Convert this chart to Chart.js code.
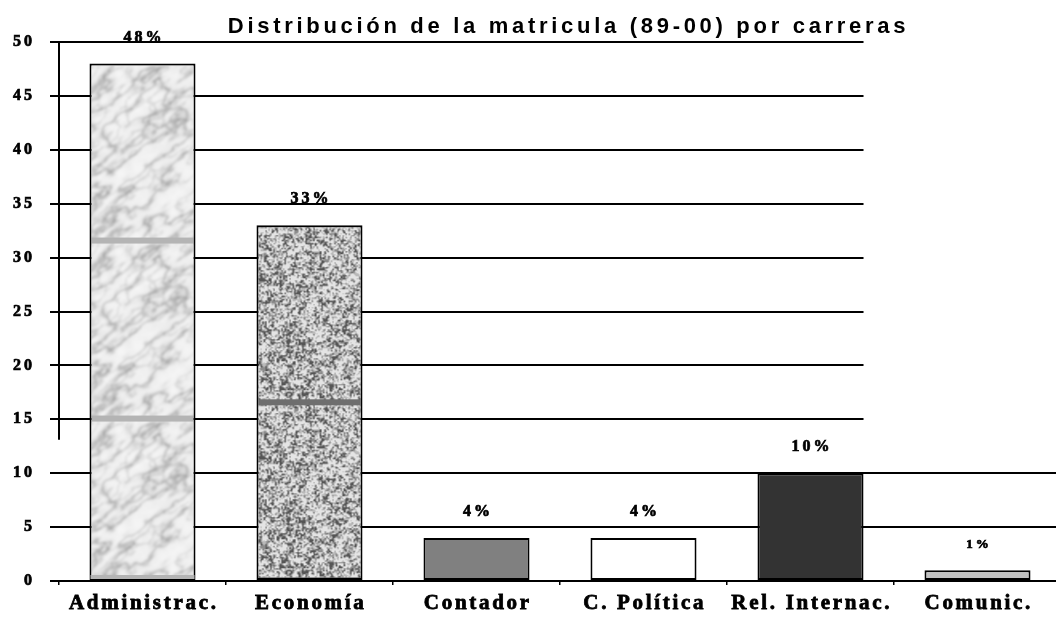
<!DOCTYPE html>
<html>
<head>
<meta charset="utf-8">
<script src="https://cdn.jsdelivr.net/npm/chart.js@4/dist/chart.umd.min.js"></script>
<style>
html,body{margin:0;padding:0;overflow:hidden;background:#fff;width:1056px;height:617px;}
canvas{display:block;}
</style>
</head>
<body>
<canvas id="c" width="1066" height="617"></canvas>
<script>
// ---- data ----
const categories = ['Administrac.', 'Economía', 'Contador', 'C. Política', 'Rel. Internac.', 'Comunic.'];
const values = [48, 33, 4, 4, 10, 1];
const pctLabels = ['48%', '33%', '4%', '4%', '10%', '1%'];
const titleText = 'Distribución de la matricula (89-00) por carreras';
const yMin = 0, yMax = 50, yStep = 5;

// ---- styles ----
const flatColors = [null, null, '#808080', '#ffffff', '#333333', '#c0c0c0'];
const labelSizes = [16, 16, 16, 16, 16, 13];
const serif = '"Liberation Serif", "Times New Roman", serif';
const sans = '"Liberation Sans", Arial, sans-serif';

// deterministic value noise for textures
function hash(x, y) { const s = Math.sin(x * 127.1 + y * 311.7) * 43758.5453; return s - Math.floor(s); }
function vnoise(x, y) {
  const xi = Math.floor(x), yi = Math.floor(y), xf = x - xi, yf = y - yi;
  const u = xf * xf * (3 - 2 * xf), v = yf * yf * (3 - 2 * yf);
  const a = hash(xi, yi), b = hash(xi + 1, yi), c = hash(xi, yi + 1), d = hash(xi + 1, yi + 1);
  return a + (b - a) * u + (c - a) * v + (a - b - c + d) * u * v;
}
function fbm(x, y) { let s = 0, amp = 0.5, f = 1; for (let i = 0; i < 4; i++) { s += amp * vnoise(x * f, y * f); amp *= 0.5; f *= 2; } return s; }

const TW = 120, TH = 178;
function makeTile(kind) {
  const cv = document.createElement('canvas'); cv.width = TW; cv.height = TH;
  const g = cv.getContext('2d'); const img = g.createImageData(TW, TH);
  for (let y = 0; y < TH; y++) for (let x = 0; x < TW; x++) {
    let v;
    if (kind === 'marble') {
      const u = x * 0.8 - y * 0.6, w = x * 0.6 + y * 0.8;
      const r1 = 1 - Math.abs(2 * fbm(u / 34 + 3, w / 14 + 5) - 1);
      const r2 = 1 - Math.abs(2 * fbm(u / 20 + 11, w / 10 + 2) - 1);
      const cloud = fbm(x / 9 + 40, y / 9 + 17);
      v = 248 - 14 * cloud - 60 * Math.pow(r1, 14) - 35 * Math.pow(r2, 16);
    } else {
      const n = vnoise(x / 1.6, y / 1.6) * 0.7 + vnoise(x / 5 + 9, y / 5 + 3) * 0.3;
      v = n > 0.56 ? 228 : n > 0.43 ? 185 : n > 0.32 ? 140 : 85;
    }
    const i = (y * TW + x) * 4;
    img.data[i] = img.data[i + 1] = img.data[i + 2] = Math.max(0, Math.min(255, v)); img.data[i + 3] = 255;
  }
  g.putImageData(img, 0, 0);
  const out = document.createElement('canvas'); out.width = TW; out.height = TH;
  const o = out.getContext('2d');
  o.filter = kind === 'marble' ? 'blur(0.9px)' : 'blur(0.35px)';
  // draw wrapped copies so the blur tiles seamlessly
  for (let dy = -1; dy <= 1; dy++) for (let dx = -1; dx <= 1; dx++) o.drawImage(cv, dx * TW, dy * TH);
  o.filter = 'none';
  o.fillStyle = kind === 'marble' ? '#b4b4b4' : '#6e6e6e';
  o.fillRect(0, 172, TW, 6);
  return out;
}
const tiles = [makeTile('marble'), makeTile('granite')];
const fallback = ['#e6e6e6', '#9a9a9a'];

function barFill(ctx) {
  const i = ctx.dataIndex;
  if (flatColors[i]) return flatColors[i];
  const chart = ctx.chart;
  if (!chart.chartArea || !chart.scales.y) return fallback[i];
  const top = chart.scales.y.getPixelForValue(ctx.raw);
  const left = chart.scales.x.getPixelForValue(i) - 60;
  const p = chart.ctx.createPattern(tiles[i], 'repeat');
  p.setTransform(new DOMMatrix([1, 0, 0, 1, left, top + 2]));
  return p;
}

function wrapSpacing(obj, fn, spacing, dx) {
  if (!obj || obj['_w_' + fn]) return;
  const orig = obj[fn];
  obj[fn] = function () {
    const c = this.ctx;
    c.save(); c.letterSpacing = spacing; if (dx) c.translate(dx, 0);
    const r = orig.apply(this, arguments);
    c.restore(); return r;
  };
  obj['_w_' + fn] = true;
}

const spacingPlugin = {
  id: 'spacing',
  beforeDraw(chart) {
    wrapSpacing(chart.titleBlock, 'draw', '3.7px', 38);
    wrapSpacing(chart.scales.x, 'drawLabels', '2.7px', 1.3);
    wrapSpacing(chart.scales.y, 'drawLabels', '3px', 0);
  }
};

const gridPlugin = {
  id: 'customGrid',
  beforeDatasetsDraw(chart) {
    const { ctx, chartArea, scales } = chart;
    const ys = scales.y;
    const meta = chart.getDatasetMeta(0);
    const rb = meta.data[4];
    const shortEnd = rb.x + rb.width / 2;
    ctx.save();
    ctx.strokeStyle = '#000'; ctx.lineWidth = 2;
    ys.ticks.forEach(t => {
      if (t.value === 0) return;
      const y = Math.round(ys.getPixelForValue(t.value));
      const x1 = t.value > 10 ? shortEnd : chartArea.right;
      ctx.beginPath(); ctx.moveTo(chartArea.left, y); ctx.lineTo(x1, y); ctx.stroke();
    });
    // partial vertical axis
    ctx.beginPath();
    ctx.moveTo(chartArea.left, ys.getPixelForValue(yMax));
    ctx.lineTo(chartArea.left, ys.getPixelForValue(13.1));
    ctx.stroke();
    ctx.restore();
  }
};

const labelPlugin = {
  id: 'barLabels',
  afterDatasetsDraw(chart) {
    const { ctx } = chart;
    const meta = chart.getDatasetMeta(0);
    ctx.save();
    // base band of the marble texture
    const e0 = meta.data[0];
    ctx.fillStyle = '#b4b4b4';
    ctx.fillRect(e0.x - e0.width / 2 + 1, e0.base - 5, e0.width - 2, 4);
    ctx.fillStyle = '#000'; ctx.strokeStyle = '#000'; ctx.lineWidth = 0.7;
    ctx.textAlign = 'center'; ctx.textBaseline = 'alphabetic';
    ctx.letterSpacing = '3px';
    meta.data.forEach((el, i) => {
      ctx.font = 'bold ' + labelSizes[i] + 'px ' + serif;
      ctx.fillText(pctLabels[i], el.x + 1.5, el.y - 22);
      ctx.strokeText(pctLabels[i], el.x + 1.5, el.y - 22);
    });
    ctx.restore();
  }
};

new Chart(document.getElementById('c'), {
  type: 'bar',
  data: {
    labels: categories,
    datasets: [{
      data: values,
      backgroundColor: barFill,
      borderColor: '#000',
      borderWidth: 2,
      borderSkipped: false,
      categoryPercentage: 1,
      barPercentage: 0.635
    }]
  },
  options: {
    responsive: false,
    animation: false,
    devicePixelRatio: 1,
    layout: { padding: { left: 0, right: 5, top: 0, bottom: 0 } },
    plugins: {
      legend: { display: false },
      tooltip: { enabled: false },
      title: {
        display: true, text: titleText, color: '#000',
        font: { family: sans, weight: 'bold', size: 22, lineHeight: 1.2 },
        padding: { top: 13.5, bottom: 2.1 }
      }
    },
    scales: {
      x: {
        offset: true,
        grid: { display: true, drawOnChartArea: false, drawTicks: true, tickLength: 4, color: '#000', lineWidth: 1.5, offset: true },
        border: { display: true, color: '#000', width: 2 },
        ticks: { color: '#000', font: { family: serif, weight: 'bold', size: 21 }, padding: 6, maxRotation: 0, autoSkip: false, textStrokeColor: '#000', textStrokeWidth: 0.8 },
        afterFit(s) { s.height = 36; }
      },
      y: {
        min: yMin, max: yMax,
        grid: { display: true, drawOnChartArea: false, drawTicks: true, tickLength: 9, color: '#000', lineWidth: 2 },
        border: { display: false },
        ticks: { stepSize: yStep, color: '#000', font: { family: serif, weight: 'bold', size: 16 }, padding: 15, textStrokeColor: '#000', textStrokeWidth: 0.7 },
        afterFit(s) { s.width = 59; }
      }
    }
  },
  plugins: [spacingPlugin, gridPlugin, labelPlugin]
});
</script>
</body>
</html>
